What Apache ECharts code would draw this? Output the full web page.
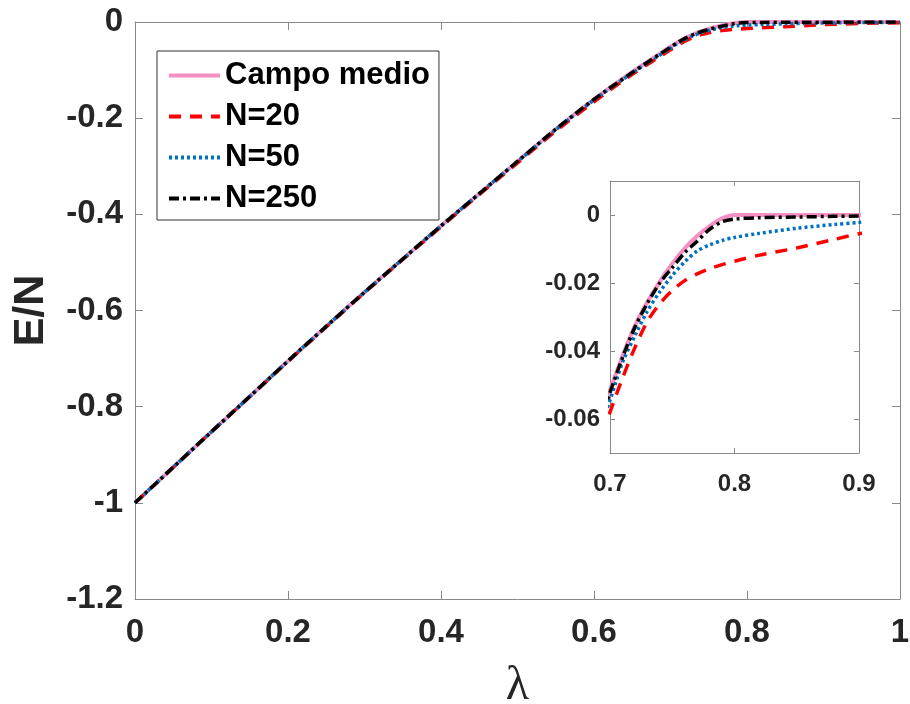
<!DOCTYPE html>
<html>
<head>
<meta charset="utf-8">
<script src="https://cdn.jsdelivr.net/npm/echarts@6/dist/echarts.min.js"></script>
<style>html,body{margin:0;padding:0;background:#fff}#c{width:910px;height:704px}</style>
</head>
<body>
<div id="c"></div>
<script>
// lambda values
const lambda = [0,0.05,0.1,0.15,0.2,0.25,0.3,0.35,0.4,0.45,0.5,0.55,0.6,0.65,
  0.7,0.71,0.72,0.73,0.74,0.75,0.76,0.77,0.78,0.79,0.8,0.82,0.85,0.88,0.9,0.95,1.0];
const campoMedio = [-1,-0.926,-0.852,-0.779,-0.705,-0.633,-0.562,-0.493,-0.424,-0.357,-0.290,-0.223,-0.161,-0.104,
  -0.0515,-0.0415,-0.0326,-0.0256,-0.0196,-0.0143,-0.0098,-0.0062,-0.0033,-0.0010,0,0,0,0,0,0,0];
const n20 = [-1,-0.926,-0.852,-0.779,-0.706,-0.634,-0.563,-0.494,-0.426,-0.359,-0.293,-0.227,-0.166,-0.109,
  -0.058,-0.048,-0.039,-0.0313,-0.0261,-0.0222,-0.0193,-0.0173,-0.0158,-0.0146,-0.0136,-0.0118,-0.0097,-0.0072,-0.0055,-0.0030,-0.0015];
const n50 = [-1,-0.926,-0.852,-0.779,-0.705,-0.633,-0.562,-0.493,-0.424,-0.357,-0.290,-0.224,-0.162,-0.106,
  -0.0545,-0.0434,-0.0355,-0.0283,-0.0226,-0.0178,-0.0138,-0.0106,-0.0088,-0.0075,-0.0066,-0.0054,-0.0039,-0.0028,-0.0022,-0.0012,-0.0006];
const n250 = [-1,-0.926,-0.852,-0.779,-0.705,-0.633,-0.562,-0.493,-0.424,-0.357,-0.290,-0.223,-0.161,-0.105,
  -0.0522,-0.0420,-0.0330,-0.0260,-0.0200,-0.0155,-0.0111,-0.0077,-0.0042,-0.0020,-0.0012,-0.0008,-0.0006,-0.0004,-0.0003,-0.0002,-0.0001];
const mainXTicks = [0,0.2,0.4,0.6,0.8,1];
const mainYTicks = [0,-0.2,-0.4,-0.6,-0.8,-1,-1.2];
const insetXTicks = [0.7,0.8,0.9];
const insetYTicks = [0,-0.02,-0.04,-0.06];
const seriesNames = ['Campo medio','N=20','N=50','N=250'];

const FONT = 'Arial, "Liberation Sans", sans-serif';
const AXC = '#8a8a8a';
const TXT = '#262626';
const pairs = arr => lambda.map((x,i)=>[x,arr[i]]);
const fmt = v => { const r = Math.round(v*1000)/1000; return String(r); };

const styles = [
  {color:'#f58fc4', type:'solid', width:4},
  {color:'#ff0000', type:[12,9], width:3.5},
  {color:'#0072bd', type:[3,3], width:3.5},
  {color:'#000000', type:[10,4,3,4], width:3.5}
];
const datas = [campoMedio, n20, n50, n250];

function mkAxisPair(gridIndex, kind, min, max, ticks, fontSize, labelMargin, tickLen, extra) {
  const base = {
    gridIndex, type:'value', min, max,
    axisLine:{show:true, onZero:false, lineStyle:{color:AXC, width:1}},
    axisTick:{show:true, inside:true, length:tickLen, customValues:ticks, lineStyle:{color:AXC}},
    axisLabel:{show:true, customValues:ticks, formatter:fmt, fontFamily:FONT, fontWeight:'bold', fontSize, color:TXT, margin:labelMargin},
    splitLine:{show:false}
  };
  const sec = {
    gridIndex, type:'value', min, max,
    position: kind==='x' ? 'top' : 'right',
    axisLine:{show:true, onZero:false, lineStyle:{color:AXC, width:1}},
    axisTick:{show:true, inside:true, length:tickLen, customValues:ticks, lineStyle:{color:AXC}},
    axisLabel:{show:false}, splitLine:{show:false}
  };
  Object.assign(base, extra||{});
  return [base, sec];
}

const [mx, mx2] = mkAxisPair(0,'x',0,1,mainXTicks,33,17,8,{
  name:'λ', nameLocation:'middle', nameGap:63,
  nameTextStyle:{fontFamily:'"Liberation Serif","DejaVu Serif",serif', fontSize:48, color:TXT}
});
const [my, my2] = mkAxisPair(0,'y',-1.2,0,mainYTicks,33,12,8,{
  name:'E/N', nameLocation:'middle', nameGap:82, nameRotate:90,
  nameTextStyle:{fontFamily:FONT, fontWeight:'bold', fontSize:43, color:TXT}
});
const [ix, ix2] = mkAxisPair(1,'x',0.7,0.9,insetXTicks,24,19,5);
const [iy, iy2] = mkAxisPair(1,'y',-0.07,0.01,insetYTicks,24,10,5);

const series = [];
seriesNames.forEach((n,i)=>{
  series.push({name:n, type:'line', xAxisIndex:0, yAxisIndex:0, data:pairs(datas[i]),
    symbol:'none', showSymbol:false, smooth:0.3, lineStyle:styles[i], itemStyle:{color:styles[i].color}, z:2+i, animation:false});
});
seriesNames.forEach((n,i)=>{
  series.push({name:n, type:'line', xAxisIndex:2, yAxisIndex:2, data:pairs(datas[i]),
    symbol:'none', showSymbol:false, smooth:0.3, clip:true, lineStyle:styles[i], itemStyle:{color:styles[i].color}, z:20+i, animation:false});
});

const chart = echarts.init(document.getElementById('c'), null, {renderer:'canvas'});
chart.setOption({
  animation:false,
  backgroundColor:'#fff',
  grid:[
    {left:135, right:10, top:22, bottom:105, show:false, containLabel:false, outerBoundsMode:'none'},
    {left:610, right:51, top:181, bottom:251, show:true, backgroundColor:'#fff', borderWidth:0, z:10, containLabel:false, outerBoundsMode:'none'}
  ],
  xAxis:[mx, mx2, Object.assign(ix,{z:12}), Object.assign(ix2,{z:12})],
  yAxis:[my, my2, Object.assign(iy,{z:12}), Object.assign(iy2,{z:12})],
  legend:{
    data:seriesNames, orient:'vertical', left:157, top:51,
    padding:[9,9,6,10], itemGap:10, itemWidth:51, itemHeight:14,
    backgroundColor:'#fff', borderColor:'#333', borderWidth:1, borderRadius:0,
    itemStyle:{opacity:0},
    lineStyle:{width:4},
    textStyle:{fontFamily:FONT, fontWeight:'bold', fontSize:31, color:'#000', lineHeight:31},
    z:30
  },
  series
});
</script>
</body>
</html>
